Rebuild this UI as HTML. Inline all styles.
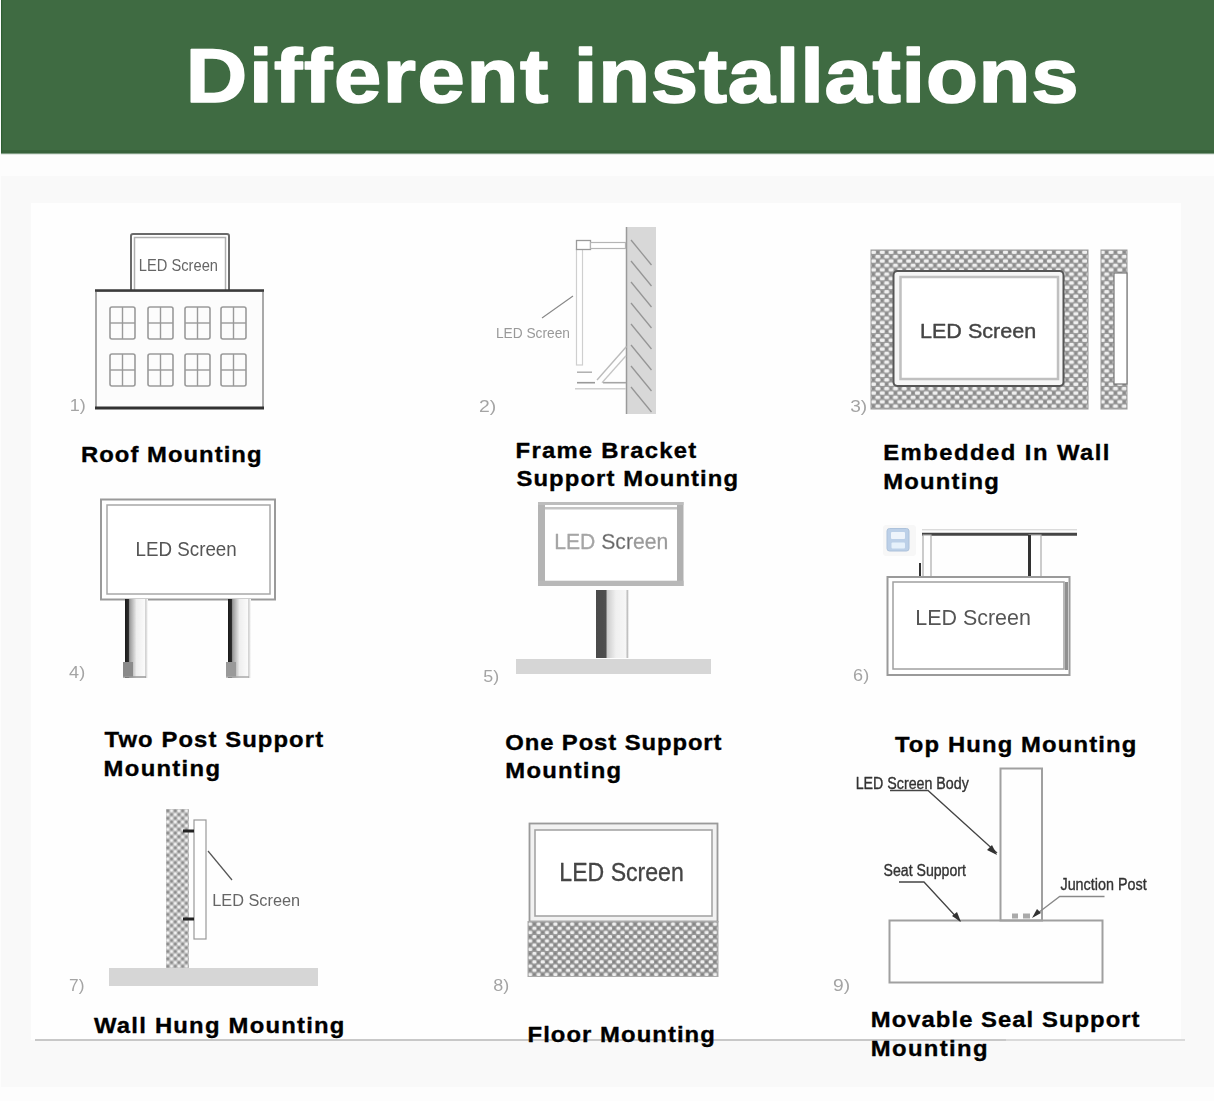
<!DOCTYPE html>
<html><head><meta charset="utf-8">
<style>
html,body{margin:0;padding:0;width:1214px;height:1101px;overflow:hidden;background:#f8f8f8}
svg{position:absolute;left:0;top:0;display:block}
</style></head><body>
<svg width="1214" height="1101" viewBox="0 0 1214 1101" font-family="Liberation Sans, sans-serif">
<defs>
<filter id="soft" x="0" y="0" width="1214" height="1101" filterUnits="userSpaceOnUse"><feGaussianBlur stdDeviation="0.45"/></filter>
<pattern id="chk" width="8.8" height="8.8" patternUnits="userSpaceOnUse" x="871" y="250">
<rect width="8.8" height="8.8" fill="#989898"/>
<rect x="0" y="0.6" width="5.0" height="3.3" rx="1.3" fill="#f0f0f0"/>
<rect x="4.4" y="5.0" width="5.0" height="3.3" rx="1.3" fill="#f0f0f0"/>
<rect x="-4.4" y="5.0" width="5.0" height="3.3" rx="1.3" fill="#f0f0f0"/>
<rect x="5.4" y="1.3" width="2.4" height="2.0" rx="0.8" fill="#858585"/>
<rect x="1.0" y="5.7" width="2.4" height="2.0" rx="0.8" fill="#858585"/>
</pattern>
<pattern id="chk7" width="7.4" height="7.4" patternUnits="userSpaceOnUse" x="166" y="809">
<rect width="7.4" height="7.4" fill="#c0c0c0"/>
<rect x="0.45" y="0.45" width="2.8" height="2.8" rx="1" fill="#8c8c8c"/>
<rect x="4.15" y="4.15" width="2.8" height="2.8" rx="1" fill="#8c8c8c"/>
<rect x="4.15" y="0.45" width="2.8" height="2.8" rx="1" fill="#f2f2f2"/>
<rect x="0.45" y="4.15" width="2.8" height="2.8" rx="1" fill="#f2f2f2"/>
</pattern>
<pattern id="chk8" width="8.4" height="8.4" patternUnits="userSpaceOnUse" x="528" y="922">
<rect width="8.4" height="8.4" fill="#979797"/>
<rect x="0.2" y="0.5" width="4.0" height="3.2" rx="1.2" fill="#f0f0f0"/>
<rect x="4.4" y="4.7" width="4.0" height="3.2" rx="1.2" fill="#f0f0f0"/>
<rect x="5.0" y="1.1" width="2.4" height="2.0" rx="0.8" fill="#808080"/>
<rect x="0.8" y="5.3" width="2.4" height="2.0" rx="0.8" fill="#808080"/>
</pattern>
<linearGradient id="post" x1="0" x2="1" y1="0" y2="0">
<stop offset="0" stop-color="#1a1a1a"/><stop offset="0.15" stop-color="#2a2a2a"/><stop offset="0.2" stop-color="#999"/><stop offset="0.5" stop-color="#eee"/><stop offset="0.85" stop-color="#fafafa"/><stop offset="0.9" stop-color="#ccc"/><stop offset="1" stop-color="#fff"/>
</linearGradient>
<linearGradient id="post5" x1="0" x2="1" y1="0" y2="0">
<stop offset="0" stop-color="#4a4a4a"/><stop offset="0.3" stop-color="#505050"/><stop offset="0.34" stop-color="#ccc"/><stop offset="0.6" stop-color="#f0f0f0"/><stop offset="0.9" stop-color="#f6f6f6"/><stop offset="0.95" stop-color="#bbb"/><stop offset="1" stop-color="#fff"/>
</linearGradient>
</defs>
<rect x="0" y="0" width="1214" height="1101" fill="#f9f9f9"/>
<rect x="0" y="153" width="1214" height="23" fill="#fdfdfd"/>
<rect x="31" y="203" width="1150" height="837" fill="#fefefe"/>
<rect x="0" y="1087" width="1214" height="14" fill="#fdfdfd"/>
<rect x="0" y="0" width="1" height="1101" fill="#fdfdfd"/>
<rect x="1" y="0" width="1213" height="153.5" fill="#3f6b42"/>
<rect x="1" y="150.3" width="1213" height="2.7" fill="#38623b"/>
<rect x="1" y="153" width="1213" height="1.2" fill="#7d9a80"/>
<rect x="1" y="0" width="1.2" height="153" fill="#2f5e33"/>

<text transform="translate(185.87 101.80) scale(1.12 1)" x="0" y="0" font-size="76" font-weight="bold" fill="#fff" textLength="323.67" lengthAdjust="spacing" stroke="#fff" stroke-width="1.6" stroke-linejoin="round">Different</text>
<text transform="translate(573.84 101.80) scale(1.12 1)" x="0" y="0" font-size="76" font-weight="bold" fill="#fff" textLength="450.65" lengthAdjust="spacing" stroke="#fff" stroke-width="1.6" stroke-linejoin="round">installations</text>
<rect x="35" y="1039" width="971" height="2" fill="#c8c8c8"/><rect x="1006" y="1039" width="179" height="2" fill="#dadada"/>
<text transform="translate(81.02 461.90) scale(1.06 1)" x="0" y="0" font-size="22.5" font-weight="bold" fill="#000" textLength="170.21" lengthAdjust="spacing" stroke="#000" stroke-width="0.35" stroke-linejoin="round">Roof Mounting</text>
<text transform="translate(515.62 458.10) scale(1.06 1)" x="0" y="0" font-size="22.5" font-weight="bold" fill="#000" textLength="170.30" lengthAdjust="spacing" stroke="#000" stroke-width="0.35" stroke-linejoin="round">Frame Bracket</text>
<text transform="translate(516.46 486.30) scale(1.06 1)" x="0" y="0" font-size="22.5" font-weight="bold" fill="#000" textLength="209.04" lengthAdjust="spacing" stroke="#000" stroke-width="0.35" stroke-linejoin="round">Support Mounting</text>
<text transform="translate(883.22 460.30) scale(1.06 1)" x="0" y="0" font-size="22.5" font-weight="bold" fill="#000" textLength="213.46" lengthAdjust="spacing" stroke="#000" stroke-width="0.35" stroke-linejoin="round">Embedded In Wall</text>
<text transform="translate(883.22 489.30) scale(1.06 1)" x="0" y="0" font-size="22.5" font-weight="bold" fill="#000" textLength="109.08" lengthAdjust="spacing" stroke="#000" stroke-width="0.35" stroke-linejoin="round">Mounting</text>
<text transform="translate(104.54 747.00) scale(1.06 1)" x="0" y="0" font-size="22.5" font-weight="bold" fill="#000" textLength="206.17" lengthAdjust="spacing" stroke="#000" stroke-width="0.35" stroke-linejoin="round">Two Post Support</text>
<text transform="translate(103.62 775.70) scale(1.06 1)" x="0" y="0" font-size="22.5" font-weight="bold" fill="#000" textLength="109.74" lengthAdjust="spacing" stroke="#000" stroke-width="0.35" stroke-linejoin="round">Mounting</text>
<text transform="translate(505.22 749.60) scale(1.06 1)" x="0" y="0" font-size="22.5" font-weight="bold" fill="#000" textLength="204.03" lengthAdjust="spacing" stroke="#000" stroke-width="0.35" stroke-linejoin="round">One Post Support</text>
<text transform="translate(505.32 778.30) scale(1.06 1)" x="0" y="0" font-size="22.5" font-weight="bold" fill="#000" textLength="109.18" lengthAdjust="spacing" stroke="#000" stroke-width="0.35" stroke-linejoin="round">Mounting</text>
<text transform="translate(894.94 751.90) scale(1.06 1)" x="0" y="0" font-size="22.5" font-weight="bold" fill="#000" textLength="227.63" lengthAdjust="spacing" stroke="#000" stroke-width="0.35" stroke-linejoin="round">Top Hung Mounting</text>
<text transform="translate(93.97 1032.60) scale(1.06 1)" x="0" y="0" font-size="22.5" font-weight="bold" fill="#000" textLength="236.27" lengthAdjust="spacing" stroke="#000" stroke-width="0.35" stroke-linejoin="round">Wall Hung Mounting</text>
<text transform="translate(527.52 1041.50) scale(1.06 1)" x="0" y="0" font-size="22.5" font-weight="bold" fill="#000" textLength="176.66" lengthAdjust="spacing" stroke="#000" stroke-width="0.35" stroke-linejoin="round">Floor Mounting</text>
<text transform="translate(870.82 1026.50) scale(1.06 1)" x="0" y="0" font-size="22.5" font-weight="bold" fill="#000" textLength="253.47" lengthAdjust="spacing" stroke="#000" stroke-width="0.35" stroke-linejoin="round">Movable Seal Support</text>
<text transform="translate(870.82 1055.70) scale(1.06 1)" x="0" y="0" font-size="22.5" font-weight="bold" fill="#000" textLength="110.03" lengthAdjust="spacing" stroke="#000" stroke-width="0.35" stroke-linejoin="round">Mounting</text>
<g filter="url(#soft)">
<text x="69.65" y="410.80" font-size="16" font-weight="normal" fill="#a4a4a4" textLength="16.01" lengthAdjust="spacingAndGlyphs">1)</text>
<text x="479.03" y="411.80" font-size="16" font-weight="normal" fill="#a4a4a4" textLength="17.21" lengthAdjust="spacingAndGlyphs">2)</text>
<text x="850.24" y="411.80" font-size="16" font-weight="normal" fill="#a4a4a4" textLength="16.99" lengthAdjust="spacingAndGlyphs">3)</text>
<text x="69.14" y="677.80" font-size="16" font-weight="normal" fill="#a4a4a4" textLength="16.02" lengthAdjust="spacingAndGlyphs">4)</text>
<text x="483.29" y="681.80" font-size="16" font-weight="normal" fill="#a4a4a4" textLength="15.86" lengthAdjust="spacingAndGlyphs">5)</text>
<text x="853.10" y="681.30" font-size="16" font-weight="normal" fill="#a4a4a4" textLength="16.06" lengthAdjust="spacingAndGlyphs">6)</text>
<text x="69.14" y="991.40" font-size="16" font-weight="normal" fill="#a4a4a4" textLength="15.37" lengthAdjust="spacingAndGlyphs">7)</text>
<text x="493.19" y="990.80" font-size="16" font-weight="normal" fill="#a4a4a4" textLength="15.96" lengthAdjust="spacingAndGlyphs">8)</text>
<text x="833.13" y="990.60" font-size="16" font-weight="normal" fill="#a4a4a4" textLength="17.10" lengthAdjust="spacingAndGlyphs">9)</text>
<g fill="none">
<rect x="131" y="234" width="98" height="58" rx="2" fill="#fff" stroke="#6a6a6a" stroke-width="2"/>
<rect x="134.5" y="237.5" width="91" height="54" stroke="#b0b0b0" stroke-width="1.5"/>
<rect x="96" y="291" width="167" height="117" fill="#fcfcfc" stroke="#a0a0a0" stroke-width="1.8"/>
<line x1="95" y1="290.5" x2="264" y2="290.5" stroke="#3a3a3a" stroke-width="2.5"/>
<line x1="95" y1="408" x2="264" y2="408" stroke="#333" stroke-width="3"/>

<rect x="110" y="307" width="25" height="32" rx="2" stroke="#9a9a9a" stroke-width="1.6"/>
<line x1="122.5" y1="307" x2="122.5" y2="339" stroke="#9a9a9a" stroke-width="1.4"/>
<line x1="110" y1="323" x2="135" y2="323" stroke="#9a9a9a" stroke-width="1.4"/>
<rect x="148" y="307" width="25" height="32" rx="2" stroke="#9a9a9a" stroke-width="1.6"/>
<line x1="160.5" y1="307" x2="160.5" y2="339" stroke="#9a9a9a" stroke-width="1.4"/>
<line x1="148" y1="323" x2="173" y2="323" stroke="#9a9a9a" stroke-width="1.4"/>
<rect x="185" y="307" width="25" height="32" rx="2" stroke="#9a9a9a" stroke-width="1.6"/>
<line x1="197.5" y1="307" x2="197.5" y2="339" stroke="#9a9a9a" stroke-width="1.4"/>
<line x1="185" y1="323" x2="210" y2="323" stroke="#9a9a9a" stroke-width="1.4"/>
<rect x="221" y="307" width="25" height="32" rx="2" stroke="#9a9a9a" stroke-width="1.6"/>
<line x1="233.5" y1="307" x2="233.5" y2="339" stroke="#9a9a9a" stroke-width="1.4"/>
<line x1="221" y1="323" x2="246" y2="323" stroke="#9a9a9a" stroke-width="1.4"/>
<rect x="110" y="354" width="25" height="32" rx="2" stroke="#9a9a9a" stroke-width="1.6"/>
<line x1="122.5" y1="354" x2="122.5" y2="386" stroke="#9a9a9a" stroke-width="1.4"/>
<line x1="110" y1="370" x2="135" y2="370" stroke="#9a9a9a" stroke-width="1.4"/>
<rect x="148" y="354" width="25" height="32" rx="2" stroke="#9a9a9a" stroke-width="1.6"/>
<line x1="160.5" y1="354" x2="160.5" y2="386" stroke="#9a9a9a" stroke-width="1.4"/>
<line x1="148" y1="370" x2="173" y2="370" stroke="#9a9a9a" stroke-width="1.4"/>
<rect x="185" y="354" width="25" height="32" rx="2" stroke="#9a9a9a" stroke-width="1.6"/>
<line x1="197.5" y1="354" x2="197.5" y2="386" stroke="#9a9a9a" stroke-width="1.4"/>
<line x1="185" y1="370" x2="210" y2="370" stroke="#9a9a9a" stroke-width="1.4"/>
<rect x="221" y="354" width="25" height="32" rx="2" stroke="#9a9a9a" stroke-width="1.6"/>
<line x1="233.5" y1="354" x2="233.5" y2="386" stroke="#9a9a9a" stroke-width="1.4"/>
<line x1="221" y1="370" x2="246" y2="370" stroke="#9a9a9a" stroke-width="1.4"/>
</g>
<text x="138.83" y="271.00" font-size="17" font-weight="normal" fill="#666" textLength="79.16" lengthAdjust="spacingAndGlyphs">LED Screen</text>
<g fill="none">
<rect x="626" y="227" width="30" height="187" fill="#d8d8d8"/>
<line x1="626.5" y1="227" x2="626.5" y2="414" stroke="#9a9a9a" stroke-width="1.5"/>

<line x1="631" y1="240" x2="651.5" y2="265" stroke="#959595" stroke-width="1.3"/>
<line x1="631" y1="261" x2="651.5" y2="286" stroke="#959595" stroke-width="1.3"/>
<line x1="631" y1="282" x2="651.5" y2="307" stroke="#959595" stroke-width="1.3"/>
<line x1="631" y1="303" x2="651.5" y2="328" stroke="#959595" stroke-width="1.3"/>
<line x1="631" y1="324" x2="651.5" y2="349" stroke="#959595" stroke-width="1.3"/>
<line x1="631" y1="345" x2="651.5" y2="370" stroke="#959595" stroke-width="1.3"/>
<line x1="631" y1="366" x2="651.5" y2="391" stroke="#959595" stroke-width="1.3"/>
<line x1="631" y1="387" x2="651.5" y2="412" stroke="#959595" stroke-width="1.3"/>
<rect x="576.5" y="249" width="6" height="116" fill="#fff" stroke="#cfcfcf" stroke-width="1.2"/>
<rect x="576.5" y="240.5" width="14" height="9" fill="#fff" stroke="#9a9a9a" stroke-width="1.3"/>
<rect x="590.5" y="242.5" width="35" height="6" fill="#fff" stroke="#b5b5b5" stroke-width="1.2"/>
<line x1="577" y1="372.2" x2="592" y2="372.2" stroke="#aaa" stroke-width="1.4"/>
<line x1="577" y1="382.7" x2="595" y2="382.7" stroke="#999" stroke-width="1.6"/>
<line x1="603" y1="382.7" x2="626" y2="382.7" stroke="#a5a5a5" stroke-width="1.6"/>
<line x1="575" y1="388.7" x2="626" y2="388.7" stroke="#d0d0d0" stroke-width="1.4"/>
<line x1="597" y1="380" x2="626.5" y2="346.5" stroke="#bbb" stroke-width="1.4"/>
<line x1="602" y1="382.7" x2="626" y2="355.7" stroke="#c5c5c5" stroke-width="1.3"/>
<line x1="542" y1="318" x2="573" y2="296" stroke="#888" stroke-width="1.1"/>
</g>
<text x="495.90" y="338.00" font-size="14" font-weight="normal" fill="#999" textLength="74.02" lengthAdjust="spacingAndGlyphs">LED Screen</text>
<g>
<rect x="871" y="250" width="217" height="159" fill="url(#chk)" stroke="#999" stroke-width="1"/>
<rect x="893.5" y="271" width="170" height="115" rx="4" fill="#f6f6f6" stroke="#555" stroke-width="2"/>
<rect x="900.5" y="277" width="157.5" height="102" fill="#fff" stroke="#c0c0c0" stroke-width="2.5"/>
<rect x="1101" y="250" width="26" height="159" fill="url(#chk)" stroke="#999" stroke-width="1"/>
<rect x="1114" y="273" width="13" height="111" fill="#fff" stroke="#777" stroke-width="1.2"/>
</g>
<text x="919.97" y="337.50" font-size="21" font-weight="normal" fill="#444" textLength="116.27" lengthAdjust="spacingAndGlyphs" stroke="#444" stroke-width="0.4" stroke-linejoin="round">LED Screen</text>
<g>
<rect x="101" y="499.5" width="174" height="100" fill="#fff" stroke="#9a9a9a" stroke-width="2"/>
<rect x="107" y="505" width="163" height="89" fill="#fff" stroke="#a8a8a8" stroke-width="1.5"/>
<rect x="125" y="599" width="23" height="79" fill="url(#post)"/>
<rect x="228" y="599" width="23" height="79" fill="url(#post)"/>
<rect x="123" y="662" width="10" height="15" fill="#8a8a8a"/>
<rect x="226" y="662" width="10" height="15" fill="#999"/>
<line x1="123" y1="677" x2="146" y2="677" stroke="#999" stroke-width="1.5"/>
<line x1="226" y1="677" x2="249" y2="677" stroke="#aaa" stroke-width="1.5"/>
</g>
<text x="135.50" y="556.00" font-size="19.5" font-weight="normal" fill="#555" textLength="101.26" lengthAdjust="spacingAndGlyphs">LED Screen</text>
<g>
<rect x="538" y="502" width="145.5" height="84" fill="#fff"/>
<rect x="538" y="502" width="7" height="84" fill="#b4b4b4"/>
<rect x="677" y="502" width="6.5" height="84" fill="#b0b0b0"/>
<rect x="538" y="502" width="145.5" height="3" fill="#bdbdbd"/>
<rect x="545" y="507" width="132" height="2.5" fill="#c4c4c4"/>
<rect x="538" y="580.7" width="145.5" height="5.3" fill="#b8b8b8"/>
<rect x="596" y="590" width="33" height="68" fill="url(#post5)"/>
<rect x="516" y="659" width="195" height="15" fill="#d6d6d6"/>
</g>
<text x="554.16" y="549.00" font-size="21.7" font-weight="normal" fill="#a5a5a5" textLength="114.11" lengthAdjust="spacingAndGlyphs" stroke="#a5a5a5" stroke-width="0.3" stroke-linejoin="round">LED <tspan fill="#666">Scr</tspan><tspan fill="#999">een</tspan></text>
<g>
<line x1="922" y1="534.3" x2="1077" y2="534.3" stroke="#444" stroke-width="3"/>
<line x1="922" y1="529.8" x2="1077" y2="529.8" stroke="#ccc" stroke-width="1"/>
<rect x="923" y="535" width="8" height="42" fill="#fff" stroke="#aaa" stroke-width="1.2"/>
<line x1="920" y1="563" x2="920" y2="577" stroke="#333" stroke-width="2"/>
<rect x="1029" y="535" width="12" height="42" fill="#fff" stroke="#aaa" stroke-width="1.2"/>
<line x1="1029.5" y1="535" x2="1029.5" y2="577" stroke="#333" stroke-width="3"/>
<rect x="887.5" y="577" width="182" height="98" fill="#fff" stroke="#9a9a9a" stroke-width="2"/>
<rect x="893" y="582" width="171" height="87" fill="#fff" stroke="#a0a0a0" stroke-width="1.5"/>
<line x1="1066.5" y1="582" x2="1066.5" y2="670" stroke="#909090" stroke-width="3"/>
<rect x="883" y="525" width="33" height="31" rx="3" fill="#f7f7f7"/>
<rect x="887" y="528.5" width="22" height="22.5" rx="2.5" fill="#bcd0e8" stroke="#adc2db" stroke-width="1"/>
<rect x="891" y="532" width="14" height="7" rx="1" fill="#eef4fb"/>
<rect x="891.5" y="542.5" width="13.5" height="6" rx="1" fill="#e6f1fb"/>
</g>
<text x="915.28" y="624.60" font-size="21.7" font-weight="normal" fill="#555" textLength="115.65" lengthAdjust="spacingAndGlyphs">LED Screen</text>
<g>
<rect x="166" y="809" width="23" height="159" fill="url(#chk7)"/>
<rect x="194" y="820" width="12" height="119" fill="#fff" stroke="#999" stroke-width="1.2"/>
<rect x="183" y="829.5" width="11" height="3" fill="#222"/>
<rect x="183" y="917.5" width="11" height="3" fill="#222"/>
<line x1="208" y1="851" x2="232" y2="880" stroke="#555" stroke-width="1.2"/>
<rect x="109" y="968" width="209" height="18" fill="#d6d6d6"/>
</g>
<text x="212.20" y="905.60" font-size="16" font-weight="normal" fill="#666" textLength="87.89" lengthAdjust="spacingAndGlyphs">LED Screen</text>
<g>
<rect x="529.5" y="823.5" width="188" height="98" fill="#f2f2f2" stroke="#9a9a9a" stroke-width="1.8"/>
<rect x="535" y="830" width="177" height="86" fill="#fff" stroke="#a5a5a5" stroke-width="1.6"/>
<rect x="528" y="921.5" width="190" height="55" fill="url(#chk8)" stroke="#aaa" stroke-width="1"/>
</g>
<text x="559.30" y="880.70" font-size="25" font-weight="normal" fill="#444" textLength="124.49" lengthAdjust="spacingAndGlyphs" stroke="#444" stroke-width="0.3" stroke-linejoin="round">LED Screen</text>
<g fill="none" stroke="#a0a0a0" stroke-width="2">
<rect x="1000.5" y="768.5" width="41.5" height="152"/>
<rect x="889.5" y="920.5" width="213" height="62"/>
</g>
<g fill="none" stroke="#444" stroke-width="1.3">
<polyline points="890,790.5 928,790.5 997,853"/>
<polyline points="899,882 924,882 960,921"/>
<polyline points="1104.5,896.5 1059.7,896.5 1034,916" stroke="#888"/>
</g>
<g fill="#333">
<polygon points="997,855 987,850 992,845"/>
<polygon points="961,922 952,916 957,912"/>
<polygon points="1032,918 1037,909 1041,913"/>
</g>
<rect x="1012" y="913.5" width="6" height="5" fill="#aaa"/>
<rect x="1023" y="913.5" width="7" height="5" fill="#aaa"/>

<text x="855.64" y="788.50" font-size="16.5" font-weight="normal" fill="#333" textLength="113.17" lengthAdjust="spacingAndGlyphs" stroke="#333" stroke-width="0.35" stroke-linejoin="round">LED Screen Body</text>
<text x="883.54" y="876.00" font-size="16" font-weight="normal" fill="#333" textLength="82.39" lengthAdjust="spacingAndGlyphs" stroke="#333" stroke-width="0.35" stroke-linejoin="round">Seat Support</text>
<text x="1060.46" y="890.00" font-size="16" font-weight="normal" fill="#333" textLength="86.19" lengthAdjust="spacingAndGlyphs" stroke="#333" stroke-width="0.35" stroke-linejoin="round">Junction Post</text>
</g>
</svg>
</body></html>
